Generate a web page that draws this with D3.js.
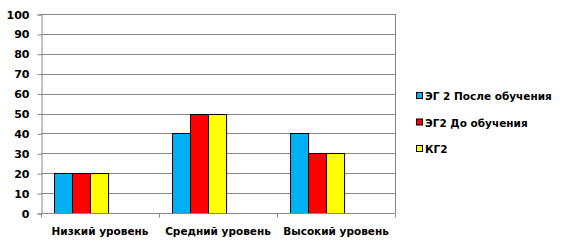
<!DOCTYPE html>
<html>
<head>
<meta charset="utf-8">
<script src="https://cdn.jsdelivr.net/npm/d3@7"></script>
<style>
  body { margin: 0; background: #fff; }
  text { font-family: "DejaVu Sans", Verdana, sans-serif; font-weight: bold; fill: #000; }
</style>
</head>
<body>
<div id="chart"></div>
<script>
// data
const categories = ["Низкий уровень", "Средний уровень", "Высокий уровень"];
const seriesNames = ["ЭГ 2 После обучения", "ЭГ2 До обучения", "КГ2"];
const seriesColors = ["#00B0F0", "#FF0000", "#FFFF00"];
const afterEG2 = [20, 40, 40];
const beforeEG2 = [20, 50, 30];
const kg2 = [20, 50, 30];
const yTicks = [0, 10, 20, 30, 40, 50, 60, 70, 80, 90, 100];

const seriesValues = [afterEG2, beforeEG2, kg2];

const W = 563, H = 243;
const plot = { left: 41, right: 395, top: 14, bottom: 213 };

const svg = d3.select("#chart").append("svg")
    .attr("width", W)
    .attr("height", H);

const x = d3.scaleBand()
    .domain(categories)
    .range([plot.left, plot.right]);

// bars sit left of band centre, like the original
const x1 = d3.scaleBand()
    .domain(seriesNames)
    .range([x.bandwidth() * 0.11, x.bandwidth() * 0.57]);

const y = d3.scaleLinear()
    .domain([0, 100])
    .range([plot.bottom, plot.top]);

// gridlines
svg.append("g")
    .selectAll("line")
    .data(yTicks)
    .join("line")
    .attr("x1", plot.left)
    .attr("x2", plot.right)
    .attr("y1", d => Math.round(y(d)) + 0.5)
    .attr("y2", d => Math.round(y(d)) + 0.5)
    .attr("stroke", "#888");

// right border of the plot area
svg.append("line")
    .attr("x1", plot.right + 0.5)
    .attr("x2", plot.right + 0.5)
    .attr("y1", plot.top)
    .attr("y2", plot.bottom)
    .attr("stroke", "#888");

// bars
const rows = categories.map((c, i) => ({
    cat: c,
    vals: seriesNames.map((s, j) => ({ s, v: seriesValues[j][i], color: seriesColors[j] }))
}));

svg.append("g")
    .selectAll("g")
    .data(rows)
    .join("g")
    .attr("transform", d => `translate(${x(d.cat)},0)`)
    .selectAll("rect")
    .data(d => d.vals)
    .join("rect")
    .attr("x", d => Math.round(x1(d.s)) + 0.5)
    .attr("y", d => Math.round(y(d.v)) + 0.5)
    .attr("width", x1.bandwidth())
    .attr("height", d => Math.round(y(0)) - Math.round(y(d.v)))
    .attr("fill", d => d.color)
    .attr("stroke", "#000")
    .attr("stroke-width", 1);

// y axis
const yAxis = svg.append("g")
    .attr("transform", `translate(${plot.left + 0.5},0.5)`)
    .call(d3.axisLeft(y).tickValues(yTicks).tickSize(4).tickPadding(8));
yAxis.selectAll("path, line").attr("stroke", "#888");
yAxis.selectAll("text").style("font-size", "11px");

// x axis
const xAxis = svg.append("g")
    .attr("transform", `translate(0,${Math.round(plot.bottom) + 0.5})`);
xAxis.append("line")
    .attr("x1", plot.left)
    .attr("x2", plot.right)
    .attr("stroke", "#888");
const bounds = categories.map(c => x(c)).concat([plot.right]);
xAxis.selectAll(".tk")
    .data(bounds)
    .join("line")
    .attr("class", "tk")
    .attr("x1", d => Math.round(d) + 0.5)
    .attr("x2", d => Math.round(d) + 0.5)
    .attr("y1", 0)
    .attr("y2", 4)
    .attr("stroke", "#888");
xAxis.selectAll(".lbl")
    .data(categories)
    .join("text")
    .attr("class", "lbl")
    .attr("x", d => x(d) + x.bandwidth() / 2)
    .attr("y", 21)
    .attr("text-anchor", "middle")
    .style("font-size", "10.5px")
    .text(d => d);

// legend
const legend = svg.append("g")
    .attr("transform", "translate(416,96)");
const items = legend.selectAll("g")
    .data(seriesNames)
    .join("g")
    .attr("transform", (d, i) => `translate(0,${i * 26.5})`);
items.append("rect")
    .attr("x", 0.5)
    .attr("y", -3.5)
    .attr("width", 6)
    .attr("height", 6)
    .attr("fill", (d, i) => seriesColors[i])
    .attr("stroke", "#000");
items.append("text")
    .attr("x", 9)
    .attr("y", 4)
    .style("font-size", "10.5px")
    .text(d => d);
</script>
</body>
</html>
